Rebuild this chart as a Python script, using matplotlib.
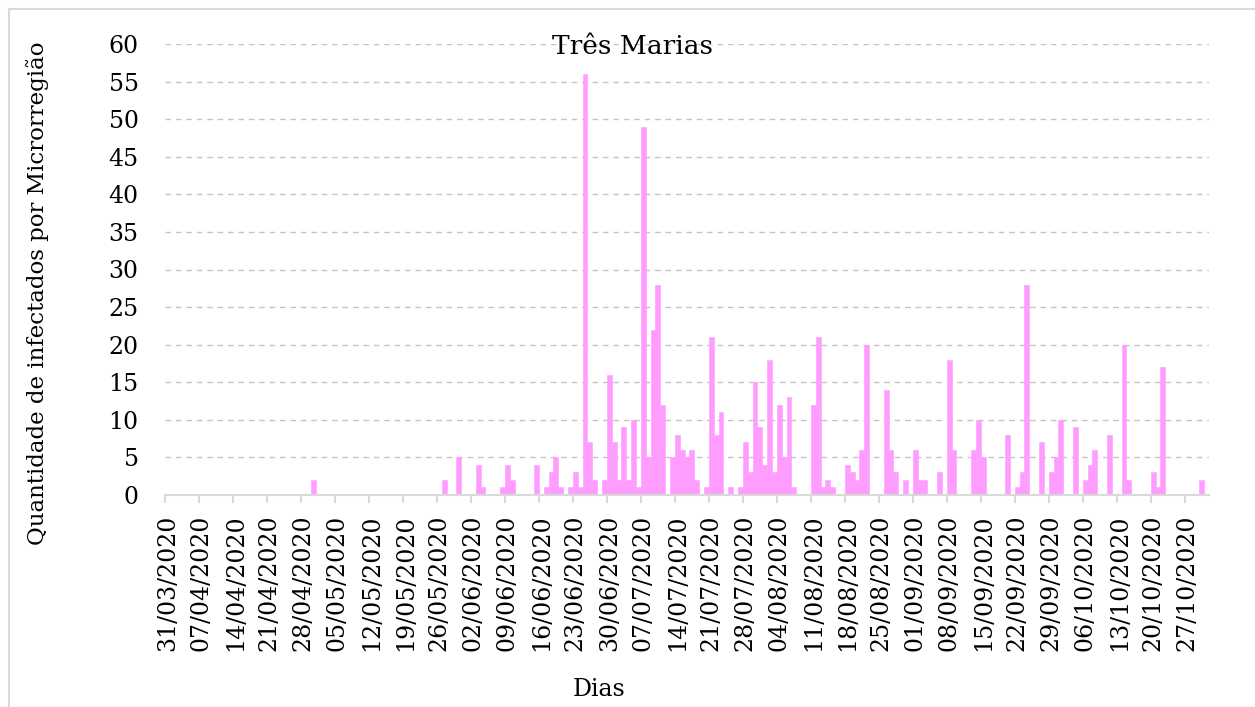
import numpy as np
import pandas as pd
import matplotlib
matplotlib.use("Agg")
import matplotlib.pyplot as plt
from matplotlib.lines import Line2D

# casos diarios (somente dias com registro), Três Marias
datas = ["30/04", "27/05", "30/05", "03/06", "04/06", "08/06", "09/06", "10/06",
         "15/06", "17/06", "18/06", "19/06", "20/06", "22/06", "23/06", "24/06",
         "25/06", "26/06", "27/06", "29/06", "30/06", "01/07", "02/07", "03/07",
         "04/07", "05/07", "06/07", "07/07", "08/07", "09/07", "10/07", "11/07",
         "13/07", "14/07", "15/07", "16/07", "17/07", "18/07", "20/07", "21/07",
         "22/07", "23/07", "25/07", "27/07", "28/07", "29/07", "30/07", "31/07",
         "01/08", "02/08", "03/08", "04/08", "05/08", "06/08", "07/08", "11/08",
         "12/08", "13/08", "14/08", "15/08", "18/08", "19/08", "20/08", "21/08",
         "22/08", "26/08", "27/08", "28/08", "30/08", "01/09", "02/09", "03/09",
         "06/09", "08/09", "09/09", "13/09", "14/09", "15/09", "20/09", "22/09",
         "23/09", "24/09", "27/09", "29/09", "30/09", "01/10", "04/10", "06/10",
         "07/10", "08/10", "11/10", "14/10", "15/10", "20/10", "21/10", "22/10",
         "30/10"]
casos = [2, 2, 5, 4, 1, 1, 4, 2,
         4, 1, 3, 5, 1, 1, 3, 1,
         56, 7, 2, 2, 16, 7, 2, 9,
         2, 10, 1, 49, 5, 22, 28, 12,
         5, 8, 6, 5, 6, 2, 1, 21,
         8, 11, 1, 1, 7, 3, 15, 9,
         4, 18, 3, 12, 5, 13, 1, 12,
         21, 1, 2, 1, 4, 3, 2, 6,
         20, 14, 6, 3, 2, 6, 2, 2,
         3, 18, 6, 6, 10, 5, 8, 1,
         3, 28, 7, 3, 5, 10, 9, 2,
         4, 6, 8, 20, 2, 3, 1, 17,
         2]

dias = pd.date_range("2020-03-31", "2020-10-31", freq="D")
serie = pd.Series(0, index=dias)
for d, v in zip(datas, casos):
    serie[pd.to_datetime(d + "/2020", format="%d/%m/%Y")] = v

x = np.arange(len(serie))
semanas = x[::7]
rotulos = [dias[i].strftime("%d/%m/%Y") for i in semanas]

cinza = "#d9d9d9"
fonte = "DejaVu Serif"

fig = plt.figure(figsize=(12.55, 7.07), dpi=100)
ax = fig.add_axes([165 / 1255, 1 - 495 / 707, (1209 - 165) / 1255, (495 - 44) / 707])

ax.bar(x, serie.values, width=1.0, color="#ff9cff", edgecolor="#ff9cff", linewidth=0.4, zorder=3)

ax.set_xlim(-0.5, len(serie) - 0.5)
ax.set_ylim(0, 60)
ax.set_yticks(np.arange(0, 61, 5))
ax.yaxis.grid(True, color="#c4c4c4", linestyle=(0, (4, 3.5)), linewidth=1.0, zorder=0)

for s in ["top", "right", "left"]:
    ax.spines[s].set_visible(False)
ax.spines["bottom"].set_color(cinza)
ax.spines["bottom"].set_linewidth(1.5)
ax.spines["bottom"].set_zorder(4)

ax.set_xticks(semanas)
ax.set_xticklabels(rotulos, rotation=90, fontsize=17, family=fonte)
ax.set_xticks(semanas - 0.5, minor=True)
ax.tick_params(axis="x", which="major", length=0, pad=14)
ax.tick_params(axis="x", which="minor", length=6, width=1.5, color=cinza)
ax.tick_params(axis="y", length=0, pad=19)
for t in ax.get_yticklabels():
    t.set_fontsize(17)
    t.set_family(fonte)

ax.set_ylabel("Quantidade de infectados por Microrregião", fontsize=16.5, family=fonte,
              va="center")
ax.yaxis.set_label_coords((38 - 165) / (1209 - 165), (495 - 293) / (495 - 44))

fig.text(599 / 1255, 1 - 689 / 707, "Dias", ha="center", va="center", fontsize=17, family=fonte)
fig.text(633 / 1255, 1 - 47 / 707, "Três Marias", ha="center", va="center", fontsize=19, family=fonte)

# moldura do gráfico
fig.add_artist(Line2D([8.5 / 1255, 8.5 / 1255], [0, 1 - 8.5 / 707], color=cinza, lw=1.5))
fig.add_artist(Line2D([8.5 / 1255, 1], [1 - 8.5 / 707, 1 - 8.5 / 707], color=cinza, lw=1.5))

fig.savefig("out.png", dpi=100)
